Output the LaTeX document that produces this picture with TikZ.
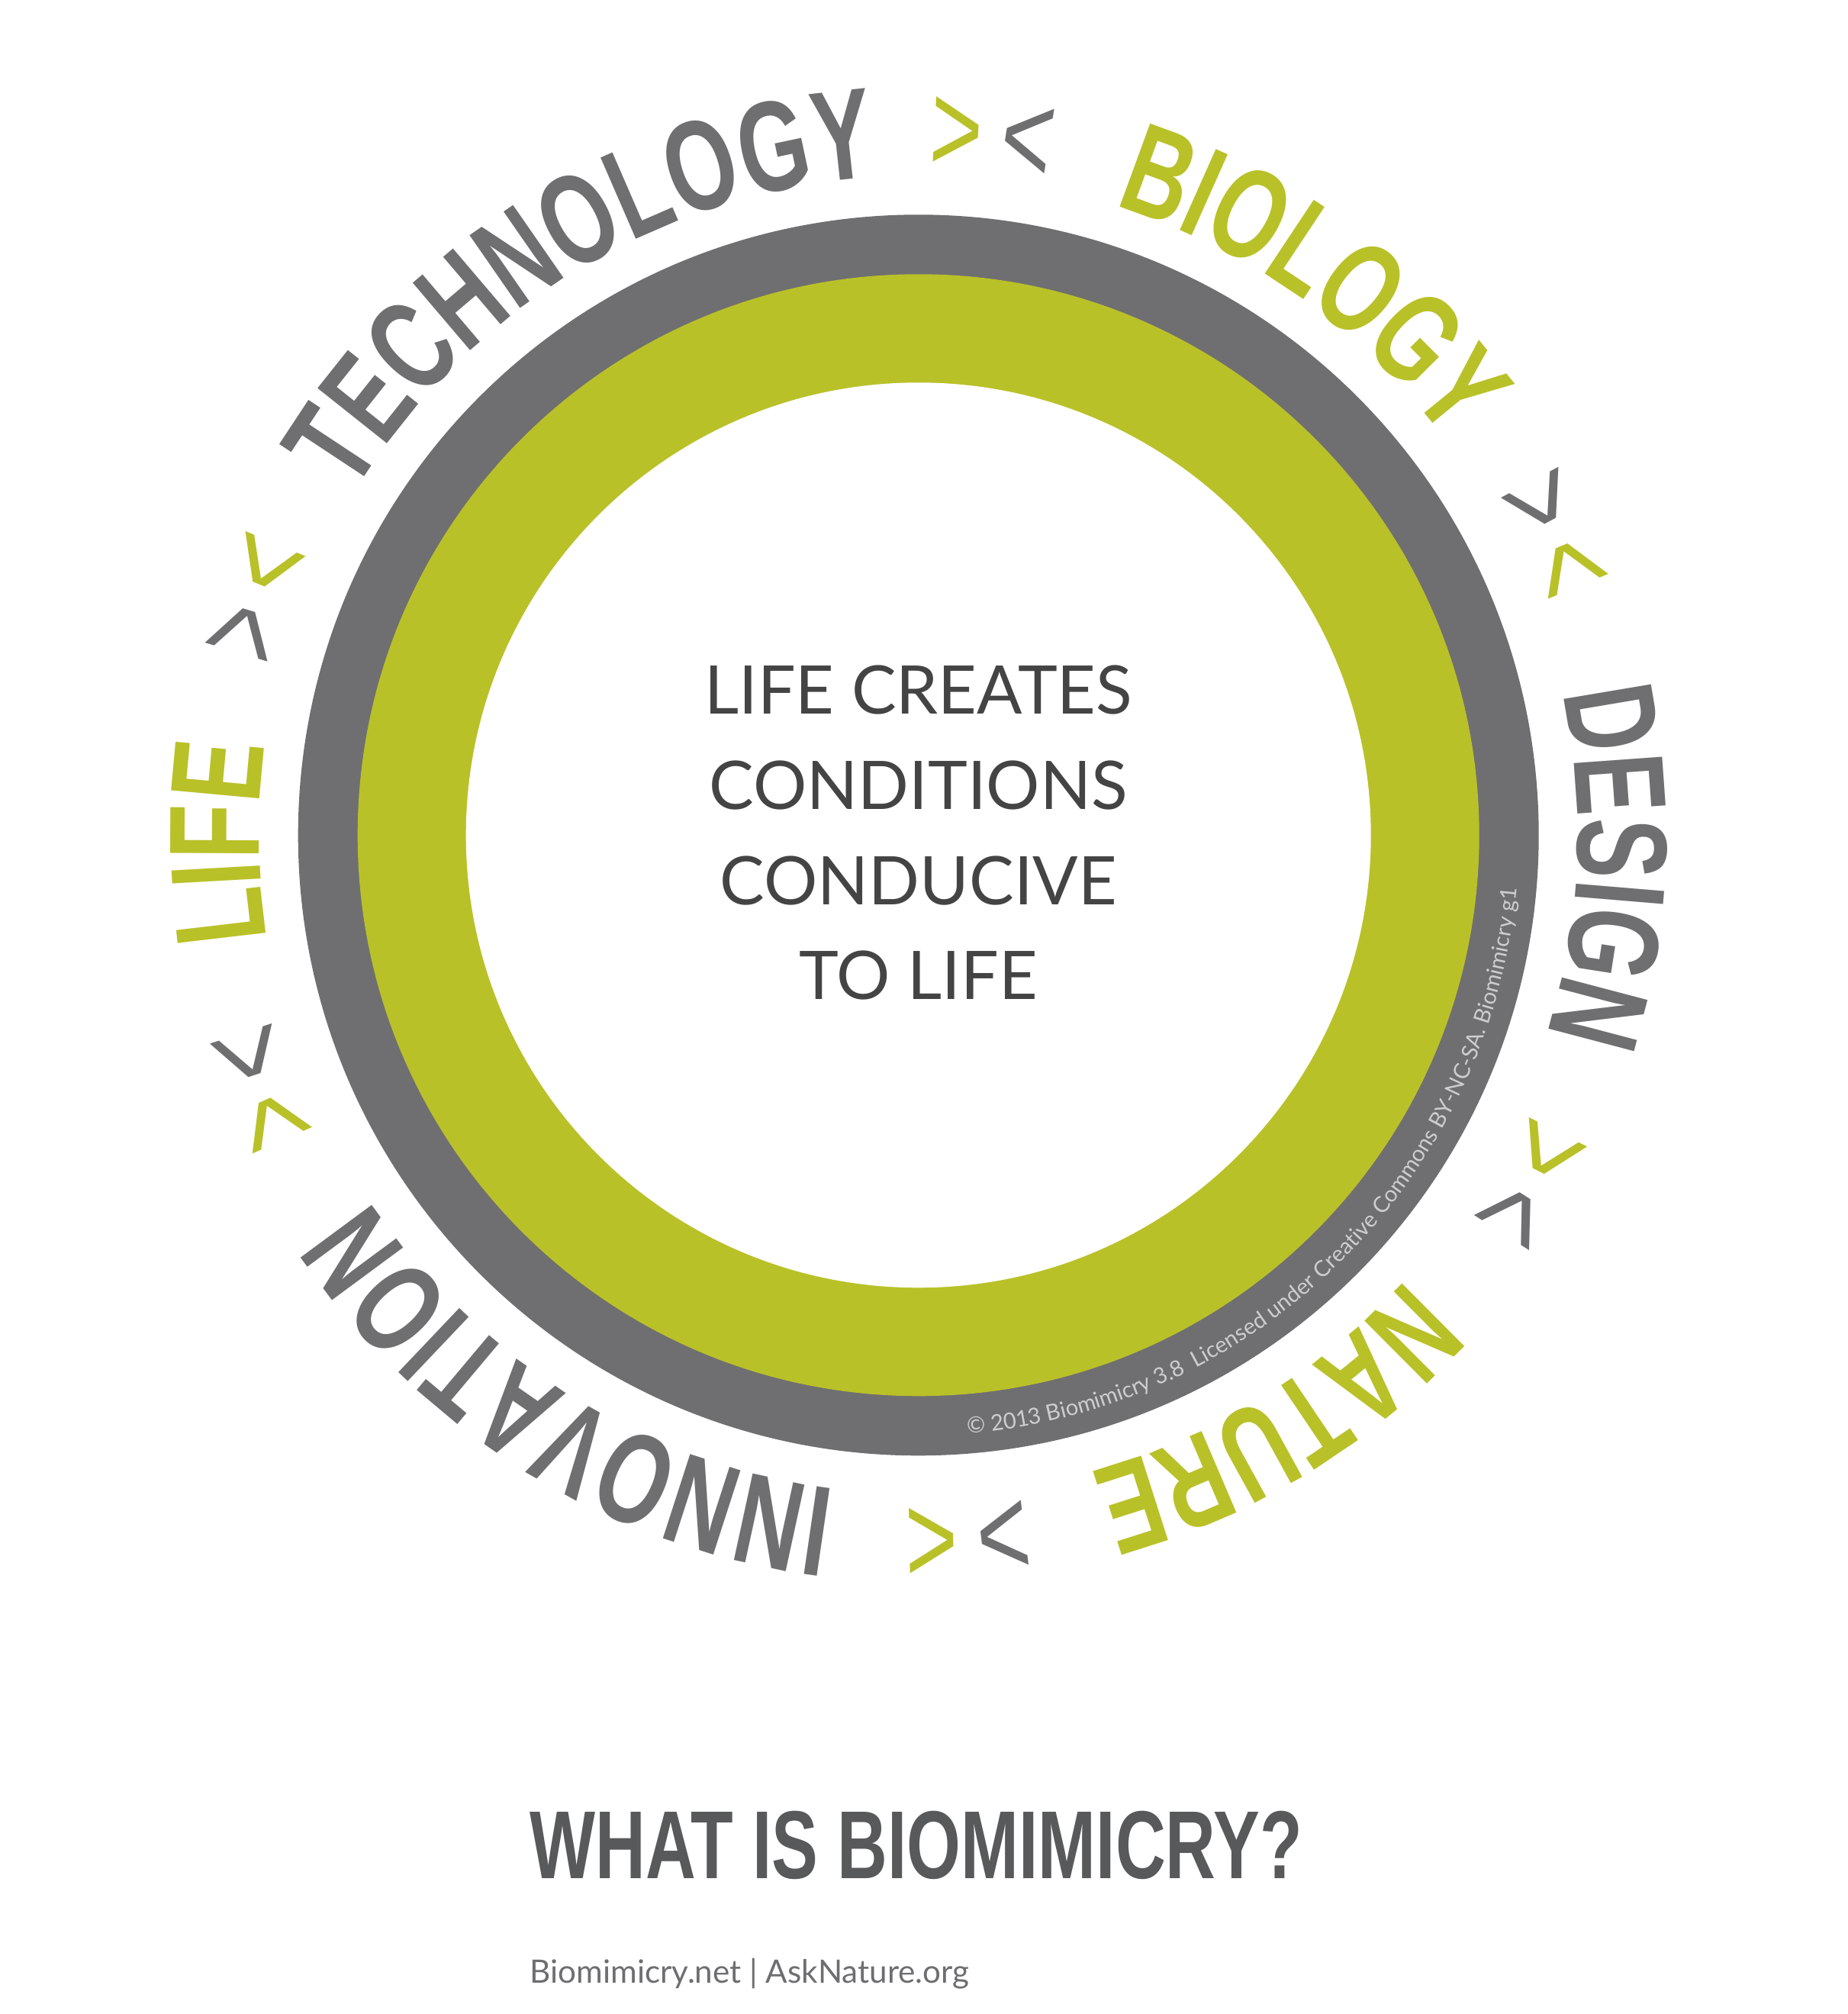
\documentclass[tikz,border=0pt]{standalone}
\usepackage{fontspec}
\usetikzlibrary{decorations.text}

\newfontfamily\condfam[FakeStretch=0.70]{Liberation Sans}
\newfontfamily\titlefam[FakeStretch=0.72]{Liberation Sans}
\newfontfamily\humfam{Lato}

\definecolor{bmgrey}{RGB}{111,111,113}
\definecolor{bmgreen}{RGB}{185,193,40}
\definecolor{bmdark}{RGB}{68,68,68}
\definecolor{bmtitle}{RGB}{88,89,91}
\definecolor{bmfoot}{RGB}{110,110,112}
\definecolor{bmlight}{RGB}{205,205,207}

\newcommand{\wordfont}{\condfam\bfseries\fontsize{48}{50}\selectfont}
\newcommand{\chevfont}{\condfam\fontsize{48}{50}\selectfont}
\newcommand{\copyfont}{\humfam\fontsize{8.3}{9}\selectfont}

\tikzset{
  chevron/.style={inner sep=0pt, anchor=base, font=\chevfont},
}

\begin{document}
\begin{tikzpicture}

\def\ringR{8.13}
\def\greenR{7.35}
\def\innerR{5.93}
\def\wordR{8.64}
\def\chevR{8.69}
\def\copyR{7.87}
\def\chevSep{2.9}

\def\ringword#1#2#3{%
  \path [decorate, decoration={text along path, text align=center,
         text={|\wordfont\color{#2}|#3}}]
        (#1+40:\wordR) arc [start angle=#1+40, end angle=#1-40, radius=\wordR];}

\useasboundingbox (-12.037,-15.447) rectangle (12.173,10.943);

% rings
\fill [bmgrey]  (0,0) circle (\ringR);
\fill [bmgreen] (0,0) circle (\greenR);
\fill [white]   (0,0) circle (\innerR);

% words round the ring, clockwise
\ringword{121.3}{bmgrey}{TECHNOLOGY}
\ringword{54.7}{bmgreen}{BIOLOGY}
\ringword{-2.6}{bmgrey}{DESIGN}
\ringword{-58.6}{bmgreen}{NATURE}
\ringword{-121.8}{bmgrey}{INNOVATION}
\ringword{-179.4}{bmgreen}{LIFE}

% >< between the words
\foreach \a/\clrA/\clrB [count=\i] in {84/bmgreen/bmgrey, 25.3/bmgrey/bmgreen,
    -29.6/bmgreen/bmgrey, -86/bmgrey/bmgreen, -159/bmgreen/bmgrey, 160.3/bmgrey/bmgreen}{
  \node (gt\i) [chevron, text=\clrA, rotate=\a+\chevSep-90] at (\a+\chevSep:\chevR) {>};
  \node (lt\i) [chevron, text=\clrB, rotate=\a-\chevSep-90] at (\a-\chevSep:\chevR) {<};
}

% copyright in the grey ring
\path [decorate, decoration={text along path,
       text={|\copyfont\color{bmlight}|© 2013 Biomimicry 3.8}}]
      (-85.3:\copyR) arc [start angle=-85.3, end angle=-50, radius=\copyR];
\path [decorate, decoration={text along path,
       text={|\copyfont\color{bmlight}|Licensed under Creative Commons BY-NC-SA. Biomimicry g1}}]
      (-62.5:\copyR) arc [start angle=-62.5, end angle=10, radius=\copyR];

\node (motto) [align=center, text=bmdark, font=\humfam\fontsize{25}{35.5}\selectfont]
      at (0,0.03) {LIFE CREATES\\CONDITIONS\\CONDUCIVE\hspace{0.27cm}\\TO LIFE};

\node (title) [anchor=base, inner sep=0pt, text=bmtitle,
      font=\titlefam\bfseries\fontsize{36}{40}\selectfont] at (-0.03,-13.67) {WHAT IS BIOMIMICRY?};
\node (web) [anchor=base west, inner sep=0pt, text=bmfoot,
      font=\humfam\fontsize{12}{14}\selectfont] at ([yshift=-1.37cm]title.base west)
      {Biomimicry.net | AskNature.org};

\end{tikzpicture}
\end{document}
